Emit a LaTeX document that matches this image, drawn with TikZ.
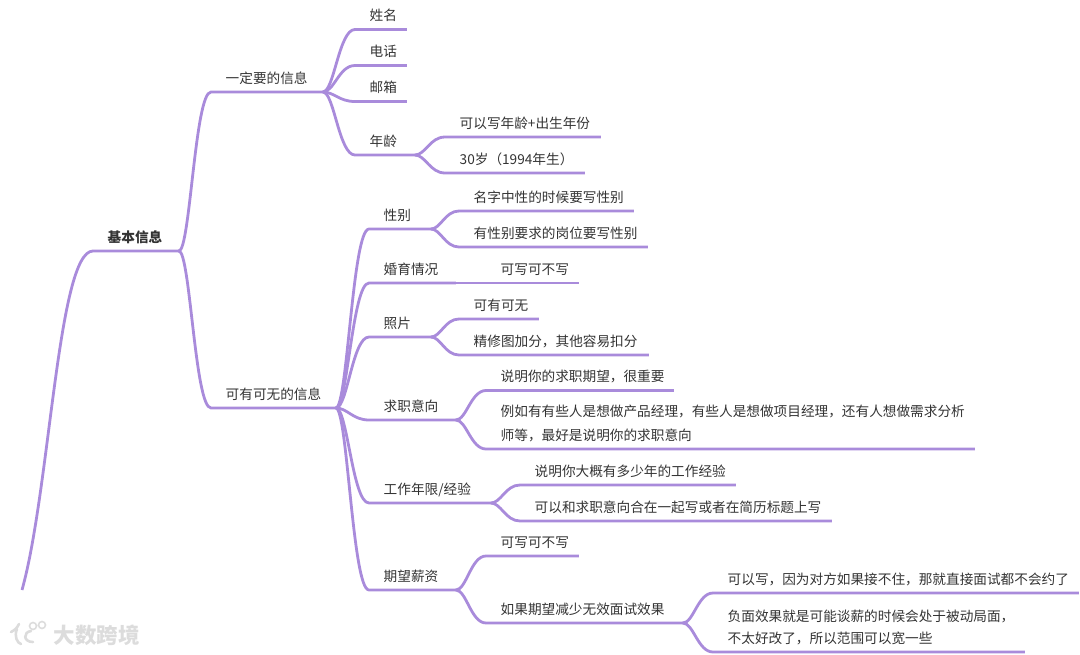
\documentclass[tikz,border=0pt]{standalone}
\usepackage{fontspec}
\setmainfont{Noto Sans CJK SC}
\usepackage{tikz}
\usetikzlibrary{calc}
\definecolor{branchcol}{HTML}{A98BDB}
\definecolor{textcol}{HTML}{333333}
\definecolor{markcol}{HTML}{DCDCDC}
\tikzset{
  topic/.style={anchor=south west,xshift=.5pt,inner xsep=0pt,inner ysep=5.5pt,text depth=3pt,
    text height=10pt,text width=#1pt,align=left,text=textcol,
    font=\fontsize{13.65}{24}\selectfont},
  branch/.style={draw=branchcol,line width=2.8pt,line join=round},
}
% parent underline end -> child underline
\newcommand\fan[2]{\draw[branch] let \p1=(#1.south east),\p2=([xshift=-14.5pt]#2.south west) in
  (\p1) .. controls (\x1*.65+\x2*.35,\y1) and (\x1*.5+\x2*.5,\y2) .. (\p2) -- (#2.south east);}
\begin{document}
\begin{tikzpicture}[x=1pt,y=-1pt]
\useasboundingbox (0,0) rectangle (1080,654);
%%
\coordinate (cut) at (22,590);
\node (basic) at (107,251) [topic=71] {\bfseries 基本信息};
\node (must) at (225,92) [topic=97] {一定要的信息};
\node (name) at (369,29.5) [topic=37] {姓名};
\node (phone) at (369,65.5) [topic=37] {电话};
\node (mail) at (369,101.5) [topic=37] {邮箱};
\node (age) at (369,155) [topic=45] {年龄};
\node (agea) at (459,137) [topic=141] {可以写年龄+出生年份};
\node (ageb) at (459,173) [topic=125] {30岁（1994年生）};
\node (opt) at (225,408) [topic=110] {可有可无的信息};
\node (sex) at (383,229) [topic=47] {性别};
\node (sexa) at (473,211) [topic=160] {名字中性的时候要写性别};
\node (sexb) at (473,247) [topic=174] {有性别要求的岗位要写性别};
\node (marry) at (383,283) [topic=72] {婚育情况};
\node (marrya) at (500,283) [topic=78] {可写可不写};
\node (photo) at (383,337) [topic=47] {照片};
\node (photoa) at (473,319) [topic=65] {可有可无};
\node (photob) at (473,355) [topic=175] {精修图加分，其他容易扣分};
\node (job) at (383,420) [topic=72] {求职意向};
\node (joba) at (500,390.5) [topic=173] {说明你的求职期望，很重要};
\node (jobb) at (500,449) [topic=474,text depth=27pt] {例如有有些人是想做产品经理，有些人是想做项目经理，还有人想做需求分析\\师等，最好是说明你的求职意向};
\node (years) at (383,503) [topic=107] {工作年限/经验};
\node (yearsa) at (534,485) [topic=201] {说明你大概有多少年的工作经验};
\node (yearsb) at (534,521) [topic=297] {可以和求职意向合在一起写或者在简历标题上写};
\node (pay) at (383,590) [topic=72] {期望薪资};
\node (paya) at (500,556) [topic=78] {可写可不写};
\node (payb) at (500,623) [topic=182] {如果期望减少无效面试效果};
\node (payc) at (727,593) [topic=351] {可以写，因为对方如果接不住，那就直接面试都不会约了};
\node (payd) at (727,652) [topic=297,text depth=25pt] {负面效果就是可能谈薪的时候会处于被动局面，\\[-2pt]不太好改了，所以范围可以宽一些};
%
\draw[branch] (cut) .. controls (50,490) and (58,251) .. ([xshift=-14.5pt]basic.south west) -- (basic.south east);
\foreach \a/\b in {basic/must,basic/opt,must/name,must/phone,must/mail,must/age,age/agea,age/ageb,
  opt/sex,opt/marry,opt/photo,opt/job,opt/years,opt/pay,sex/sexa,sex/sexb,marry/marrya,
  photo/photoa,photo/photob,job/joba,job/jobb,years/yearsa,years/yearsb,pay/paya,pay/payb,
  payb/payc,payb/payd}{\fan{\a}{\b}}
%% watermark
\node (mark) at (96.5,635) [text=markcol,font=\fontsize{21.5}{22}\selectfont\bfseries,inner sep=0pt] {大数跨境};
\draw[markcol,line width=2.6pt,line cap=round] (11,632) .. controls (15,630) and (17,628) .. (19,624);
\draw[markcol,line width=2.6pt,line cap=round] (17,629) .. controls (14,636) and (17,643) .. (21,644);
\draw[markcol,line width=2.6pt,line cap=round] (31,631) .. controls (23,632) and (23,642) .. (33,642);
\draw[markcol,line width=1.6pt] (33,626) circle (3.5) (42,625) circle (3.5);
%
\end{tikzpicture}
\end{document}
